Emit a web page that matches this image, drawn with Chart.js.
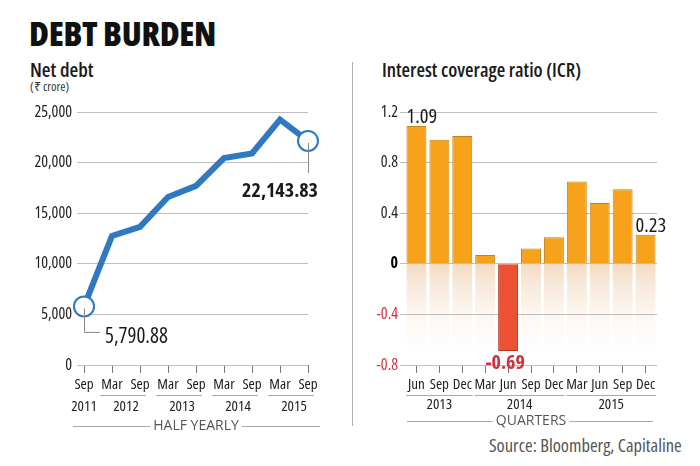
<!DOCTYPE html>
<html>
<head>
<meta charset="utf-8">
<script src="https://cdn.jsdelivr.net/npm/chart.js@4.4.1/dist/chart.umd.min.js"></script>
<style>
  html, body { margin:0; padding:0; background:#fff; }
  body { width:700px; height:466px; position:relative; overflow:hidden;
         font-family:"Open Sans",sans-serif; font-stretch:condensed; color:#1a1a1a; }
  canvas { position:absolute; left:0; top:0; }
  .t { position:absolute; white-space:nowrap; line-height:1; }
  #title { left:29px; top:16px; font-size:34px; font-weight:800; color:#111; letter-spacing:-0.3px; }
  #ldt { left:30px; top:60px; font-size:20px; font-weight:600; }
  #lunit { left:30px; top:81px; font-size:12.5px; color:#333; }
  #rdt { left:382px; top:60px; font-size:19.5px; font-weight:600; }
  #src { left:489px; top:436px; font-size:18.5px; color:#555; }
  #div { position:absolute; left:352px; top:62px; width:1px; height:364px; background:#b0b0b0; }
</style>
</head>
<body>
<div id="title" class="t">DEBT BURDEN</div>
<div id="ldt" class="t">Net debt</div>
<div id="lunit" class="t">(₹ crore)</div>
<div id="rdt" class="t">Interest coverage ratio (ICR)</div>
<div id="div"></div>
<div id="src" class="t">Source: Bloomberg, Capitaline</div>
<canvas id="c1" width="700" height="466"></canvas>
<canvas id="c2" width="700" height="466"></canvas>
<script>
// ---- data ----
const halfYearLabels = ['Sep','Mar','Sep','Mar','Sep','Mar','Sep','Mar','Sep'];
const halfYearYears  = ['2011','2012','2012','2013','2013','2014','2014','2015','2015'];
const netDebt        = [5790.88, 12750, 13650, 16600, 17700, 20450, 20900, 24250, 22143.83];
const netDebtTicks   = [0, 5000, 10000, 15000, 20000, 25000];

const quarterLabels  = ['Jun','Sep','Dec','Mar','Jun','Sep','Dec','Mar','Jun','Sep','Dec'];
const quarterYears   = ['2013','2013','2013','2014','2014','2014','2014','2015','2015','2015','2015'];
const icr            = [1.09, 0.98, 1.01, 0.07, -0.69, 0.12, 0.21, 0.65, 0.48, 0.59, 0.23];
const icrTicks       = [-0.8, -0.4, 0, 0.4, 0.8, 1.2];

const FAM = '"Open Sans",sans-serif';
const C = 'condensed';          // font-stretch keyword used in canvas font strings
Chart.defaults.font.family = FAM;
Chart.defaults.font.weight = C;
Chart.defaults.color = '#222';
Chart.defaults.animation = false;

function fmtNum(v){ return v.toLocaleString('en-US'); }
function f(size, w){ return (w ? w + ' ' : '') + C + ' ' + size + 'px ' + FAM; }

function drawGroups(chart, years, yLine, yYear, padL, padR, title, yTitle, lineL, lineR){
  const ctx = chart.ctx, xs = chart.scales.x;
  ctx.save();
  ctx.strokeStyle = '#aaa'; ctx.lineWidth = 1;
  ctx.fillStyle = '#222'; ctx.font = f(15);
  ctx.textAlign = 'center'; ctx.textBaseline = 'middle';
  let i = 0;
  while (i < years.length){
    let j = i;
    while (j + 1 < years.length && years[j+1] === years[i]) j++;
    const x0 = xs.getPixelForTick(i), x1 = xs.getPixelForTick(j);
    if (j > i){
      ctx.beginPath();
      ctx.moveTo(x0 - padL, yLine + 0.5); ctx.lineTo(x1 + padR, yLine + 0.5); ctx.stroke();
    }
    ctx.fillText(years[i], (x0 + x1) / 2, yYear);
    i = j + 1;
  }
  ctx.font = '14px ' + FAM; ctx.fillStyle = '#555';
  const cx = (chart.chartArea.left + chart.chartArea.right) / 2;
  const w = ctx.measureText(title).width;
  ctx.fillText(title, cx, yTitle);
  ctx.strokeStyle = '#aaa';
  ctx.beginPath();
  ctx.moveTo(lineL, yTitle + 0.5); ctx.lineTo(cx - w/2 - 3, yTitle + 0.5);
  ctx.moveTo(cx + w/2 + 3, yTitle + 0.5); ctx.lineTo(lineR, yTitle + 0.5);
  ctx.stroke();
  ctx.restore();
}

// ---- left: net debt line ----
const leftPlugin = {
  id: 'leftAnn',
  afterDraw(chart){
    const ctx = chart.ctx;
    const pts = chart.getDatasetMeta(0).data;
    const p0 = pts[0], pN = pts[pts.length - 1];
    ctx.save();
    ctx.strokeStyle = '#888'; ctx.lineWidth = 1;
    ctx.beginPath();
    ctx.moveTo(p0.x + 0.5, p0.y + 2); ctx.lineTo(p0.x + 0.5, p0.y + 26); ctx.lineTo(p0.x + 16, p0.y + 26);
    ctx.moveTo(pN.x + 0.5, pN.y + 2); ctx.lineTo(pN.x + 0.5, pN.y + 32);
    ctx.stroke();
    ctx.fillStyle = '#1a1a1a'; ctx.textBaseline = 'alphabetic';
    ctx.font = f(21); ctx.textAlign = 'left';
    ctx.fillText(fmtNum(netDebt[0]), p0.x + 21, p0.y + 37);
    ctx.font = f(20, 'bold'); ctx.textAlign = 'right';
    ctx.fillText(fmtNum(netDebt[netDebt.length - 1]), pN.x + 10, pN.y + 56);
    ctx.restore();
    drawGroups(chart, halfYearYears, 395, 407, 12, 6, 'HALF YEARLY', 426, 73, 320);
  }
};

const lastIdx = netDebt.length - 1;
new Chart(document.getElementById('c1'), {
  type: 'line',
  data: { labels: halfYearLabels, datasets: [{
    data: netDebt,
    borderColor: '#2f78c2', borderWidth: 6, borderJoinStyle: 'miter',
    pointRadius: c => (c.dataIndex === 0 || c.dataIndex === lastIdx) ? 10 : 0,
    pointBackgroundColor: '#fff', pointBorderColor: '#2f78c2', pointBorderWidth: 2,
    clip: false, tension: 0
  }]},
  options: {
    responsive: false, devicePixelRatio: 1,
    layout: { padding: { left: 0, top: 112, right: 392, bottom: 0 } },
    plugins: { legend: { display: false }, tooltip: { enabled: false } },
    scales: {
      x: {
        offset: false,
        grid: { drawOnChartArea: false, tickLength: 8, color: '#777' },
        border: { display: false },
        ticks: { font: { size: 15 }, padding: 3, maxRotation: 0, autoSkip: false, color: '#222' },
        afterFit: s => { s.height = 101; }
      },
      y: {
        min: 0, max: 25000,
        afterBuildTicks: s => { s.ticks = netDebtTicks.map(v => ({ value: v })); },
        grid: { color: '#bdbdbd', tickLength: 7 },
        border: { display: false },
        ticks: { font: { size: 16 }, padding: 5, color: '#222', callback: v => fmtNum(v) },
        afterFit: s => { s.width = 84; }
      }
    }
  },
  plugins: [leftPlugin]
});

// ---- right: ICR bars ----
const rightPlugin = {
  id: 'rightAnn',
  beforeDraw(chart){
    const ctx = chart.ctx, ys = chart.scales.y;
    const y0 = ys.getPixelForValue(0), y1 = ys.getPixelForValue(icrTicks[0]);
    const g = ctx.createLinearGradient(0, y0, 0, y1);
    g.addColorStop(0, 'rgba(236,196,156,0.6)');
    g.addColorStop(1, 'rgba(255,255,255,0)');
    ctx.save();
    ctx.fillStyle = g;
    chart.getDatasetMeta(0).data.forEach(b => {
      ctx.fillRect(b.x - b.width/2, y0, b.width, y1 - y0);
    });
    ctx.restore();
  },
  afterDraw(chart){
    const ctx = chart.ctx;
    const bars = chart.getDatasetMeta(0).data;
    ctx.save();
    ctx.textBaseline = 'alphabetic';
    const b0 = bars[0], bN = bars[bars.length - 1];
    ctx.fillStyle = '#1a1a1a'; ctx.font = f(20.5); ctx.textAlign = 'left';
    ctx.fillText(icr[0].toFixed(2), b0.x - b0.width/2, b0.y - 3);
    ctx.fillText(icr[icr.length - 1].toFixed(2), bN.x - bN.width/2, bN.y - 3);
    let mi = 0; icr.forEach((v, i) => { if (v < icr[mi]) mi = i; });
    const bm = bars[mi];
    ctx.fillStyle = '#d3303f'; ctx.font = f(20, 'bold'); ctx.textAlign = 'center';
    ctx.fillText(icr[mi].toFixed(2), bm.x - 3, bm.y + 18);
    ctx.restore();
    const sp = bars[1].x - bars[0].x;
    drawGroups(chart, quarterYears, 395, 405, sp/2 - 1, sp/2 - 1, 'QUARTERS', 421, 407, 653);
  }
};

new Chart(document.getElementById('c2'), {
  type: 'bar',
  data: { labels: quarterLabels, datasets: [{
    data: icr,
    backgroundColor: c => c.raw < 0 ? '#ec5134' : '#f7a21b',
    borderColor: c => c.raw < 0 ? '#b03a2a' : '#bf831f',
    borderWidth: 1,
    barPercentage: 0.87, categoryPercentage: 1
  }]},
  options: {
    responsive: false, devicePixelRatio: 1,
    layout: { padding: { left: 0, top: 112, right: 43, bottom: 0 } },
    plugins: { legend: { display: false }, tooltip: { enabled: false } },
    scales: {
      x: {
        offset: true,
        grid: { drawOnChartArea: false, offset: false, tickLength: 8, color: '#777' },
        border: { display: false },
        ticks: { font: { size: 15 }, padding: 3, maxRotation: 0, autoSkip: false, color: '#222' },
        afterFit: s => { s.height = 101; }
      },
      y: {
        min: -0.8, max: 1.2,
        afterBuildTicks: s => { s.ticks = icrTicks.map(v => ({ value: v })); },
        grid: { color: '#bdbdbd', tickLength: 5 },
        border: { display: false },
        ticks: {
          padding: 2,
          font: c => ({ size: 16, weight: (c.tick && c.tick.value === 0) ? 'bold ' + C : C }),
          color: c => (c.tick && c.tick.value < 0) ? '#d3303f' : (c.tick && c.tick.value === 0 ? '#000' : '#222'),
          callback: v => (Math.abs(v) < 1e-9 ? '0' : (Math.round(v * 10) / 10).toString())
        },
        afterFit: s => { s.width = 405; }
      }
    }
  },
  plugins: [rightPlugin]
});
</script>
</body>
</html>
